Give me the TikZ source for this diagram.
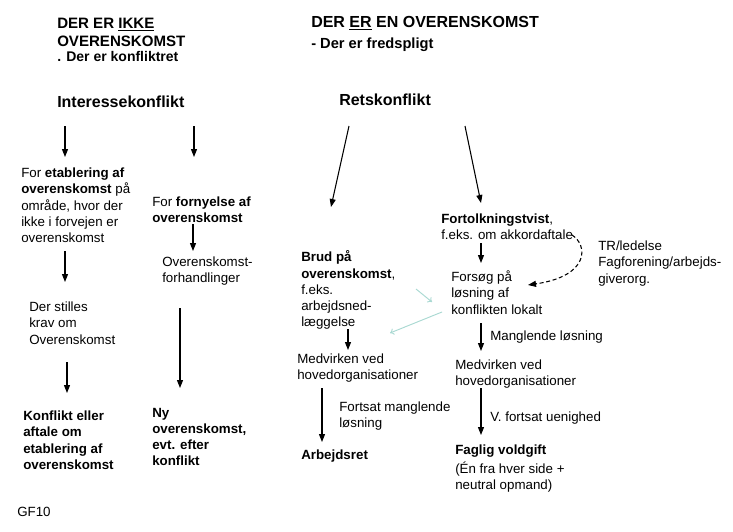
\documentclass[tikz,border=0pt]{standalone}
\usepackage{fontspec}
\setmainfont{Liberation Sans}
\usetikzlibrary{arrows.meta}
\definecolor{teal1}{HTML}{A9D9D2}
\tikzset{
  txt/.style={font=\fontsize{10}{12.2}\selectfont, align=left, anchor=north west, inner sep=0pt, yshift=-2pt, execute at begin node={\strut}},
  btxt/.style={txt, font=\fontsize{10}{12.2}\selectfont\bfseries},
  head/.style={font=\fontsize{12}{13.5}\selectfont\bfseries, anchor=base west, inner sep=0pt},
  subhead/.style={font=\fontsize{10.5}{12}\selectfont\bfseries, anchor=base west, inner sep=0pt},
  arr/.style={line width=0.8pt, -{Triangle[length=6pt,width=4.5pt]}},
  darr/.style={line width=0.8pt, dashed, dash pattern=on 3pt off 2pt, -{Triangle[length=6pt,width=4.5pt]}},
  tarr/.style={teal1, line width=0.7pt, -{To[length=3pt,width=5pt]}}
}
\begin{document}
\begin{tikzpicture}[x=0.75pt, y=-0.75pt]
\fill[white] (0,0) rectangle (733,532);
\useasboundingbox (0,0) rectangle (733,532);

% headings
\node[head, font=\fontsize{11.3}{13.5}\selectfont\bfseries, anchor=north west, align=left, execute at begin node={\strut}] (t1) at (57,18) {DER ER \underline{IKKE}\\OVERENSKOMST};
\node[subhead] (t1s) at (57,61.5) {. Der er konfliktret};
\node[head] (t2) at (311,27) {DER \underline{ER} EN OVERENSKOMST};
\node[subhead, font=\fontsize{11}{12}\selectfont\bfseries] (t2s) at (311,48) {- Der er fredspligt};
\node[head] (ik) at (57,107) {Interessekonflikt};
\node[head] (rk) at (339,105) {Retskonflikt};

% left part
\node[txt] (etab) at (21,165) {For \textbf{etablering af}\\\textbf{overenskomst} på\\område, hvor der\\ikke i forvejen er\\overenskomst};
\node[txt] (forn) at (152,194) {For \textbf{fornyelse af}\\\textbf{overenskomst}};
\node[txt] (forh) at (162,254) {Overenskomst-\\forhandlinger};
\node[txt] (krav) at (29,299) {Der stilles\\krav om\\Overenskomst};
\node[btxt] (konf) at (23,408) {Konflikt eller\\aftale om\\etablering af\\overenskomst};
\node[btxt] (ny) at (152,405) {Ny\\overenskomst,\\evt. efter\\konflikt};
\node[txt] (gf) at (17,502) {GF10};

% right part
\node[txt] (fort) at (441,211) {\textbf{Fortolkningstvist},\\f.eks. om akkordaftale};
\node[txt] (fors) at (451,268) {Forsøg på\\løsning af\\konflikten lokalt};
\node[txt] (tr) at (598,238) {TR/ledelse\\Fagforening/arbejds-\\giverorg.};
\node[txt] (brud) at (301,248) {\textbf{Brud på}\\\textbf{overenskomst},\\f.eks.\\arbejdsned-\\læggelse};
\node[txt] (med1) at (297,351) {Medvirken ved\\hovedorganisationer};
\node[txt] (mangl) at (490,326) {Manglende løsning};
\node[txt] (med2) at (455,357) {Medvirken ved\\hovedorganisationer};
\node[txt] (fml) at (339,399) {Fortsat manglende\\løsning};
\node[btxt] (arb) at (301,445) {Arbejdsret};
\node[txt] (vf) at (490,407) {V. fortsat uenighed};
\node[txt] (fv) at (455,442) {\textbf{Faglig voldgift}\\[2pt](Én fra hver side +\\neutral opmand)};

% arrow end points
\coordinate (a1s) at (65,126);  \coordinate (a1e) at (65,157);
\coordinate (a2s) at (194,126); \coordinate (a2e) at (194,157);
\coordinate (a3s) at (193,224); \coordinate (a3e) at (193,251);
\coordinate (a4s) at (65,251);  \coordinate (a4e) at (65,282);
\coordinate (a5s) at (67,362);  \coordinate (a5e) at (67,393);
\coordinate (a6s) at (180,308); \coordinate (a6e) at (180,388);
\coordinate (a7s) at (349,126); \coordinate (a7e) at (331,207);
\coordinate (a8s) at (465,126); \coordinate (a8e) at (481,203);
\coordinate (a9s) at (481,243); \coordinate (a9e) at (481,263);
\coordinate (a10s) at (348,329); \coordinate (a10e) at (348,350);
\coordinate (a11s) at (481,323); \coordinate (a11e) at (481,351);
\coordinate (a12s) at (322,388); \coordinate (a12e) at (322,442);
\coordinate (a13s) at (481,388); \coordinate (a13e) at (481,435);
\coordinate (ds) at (572,235); \coordinate (de) at (528,285);
\coordinate (t1a) at (416,289); \coordinate (t1b) at (432,302);
\coordinate (t2a) at (442,312); \coordinate (t2b) at (390,333);

\foreach \i in {1,...,13} \draw[arr] (a\i s) -- (a\i e);
\draw[darr] (ds) .. controls (588,245) and (590,276) .. (de);
\draw[tarr] (t1a) -- (t1b);
\draw[tarr] (t2a) -- (t2b);
\end{tikzpicture}
\end{document}
